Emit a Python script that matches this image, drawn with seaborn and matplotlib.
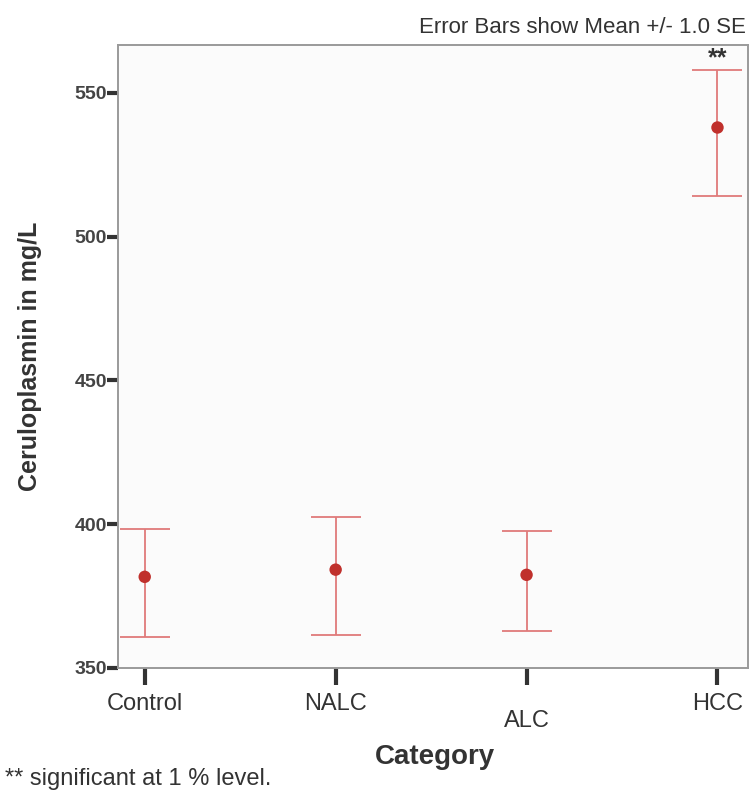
import numpy as np
import pandas as pd
import matplotlib
matplotlib.use("Agg")
import matplotlib.pyplot as plt
import seaborn as sns

sns.set_style('white')
plt.rcParams['font.family'] = ['Liberation Sans', 'DejaVu Sans']

# data (mean +/- 1 SE)
categories = ["Control", "NALC", "ALC", "HCC"]
means = [381.7, 384.2, 382.4, 538.0]
upper = [398.3, 402.6, 397.6, 558.0]
lower = [360.9, 361.6, 362.8, 514.2]

df = pd.DataFrame({"Category": categories, "Mean": means,
                   "Upper": upper, "Lower": lower})

fig = plt.figure(figsize=(7.53, 7.92), dpi=100)
fig.patch.set_facecolor('white')
ax = fig.add_axes([0.1567, 0.1566, 0.8367, 0.7866])
ax.set_facecolor('#fbfbfb')

# error bars
yerr = [df["Mean"] - df["Lower"], df["Upper"] - df["Mean"]]
ax.errorbar(np.arange(len(df)), df["Mean"], yerr=yerr, fmt='none',
            ecolor='#e07a7a', elinewidth=1.3, capsize=18, capthick=1.3, zorder=2)

# means
sns.scatterplot(data=df, x="Category", y="Mean", ax=ax, color='#c0302c',
                s=80, edgecolor='none', zorder=3)

ax.set_xlim(-0.14, 3.16)
ax.set_ylim(350, 566.7)
ax.set_yticks([350, 400, 450, 500, 550])

for s in ax.spines.values():
    s.set_color('#9a9a9a')
    s.set_linewidth(1.4)

ax.tick_params(axis='y', direction='out', length=8, width=3, color='#333333',
               labelsize=14, labelcolor='#444444', pad=0, left=True)
ax.tick_params(axis='x', direction='out', length=12, width=3, color='#333333',
               labelsize=17, labelcolor='#333333', pad=6, bottom=True)
for lab in ax.get_yticklabels():
    lab.set_fontweight('bold')
ax.get_xticklabels()[2].set_y(-0.027)

ax.set_xlabel('Category', fontsize=20, fontweight='bold', color='#333333')
ax.set_ylabel('Ceruloplasmin in mg/L', fontsize=18, fontweight='bold', color='#333333')
ax.xaxis.set_label_coords(0.503, -0.122)
ax.yaxis.set_label_coords(-0.12, 0.5)

ax.text(3, 566.3, '**', ha='center', va='top', fontsize=18, fontweight='bold',
        color='#333333')

fig.text(0.99, 0.978, 'Error Bars show Mean +/- 1.0 SE', ha='right', va='top',
         fontsize=16, color='#333333')
fig.text(0.006, 0.003, '** significant at 1 % level.', ha='left', va='bottom',
         fontsize=17, color='#333333')

fig.savefig('out.png', dpi=100)
